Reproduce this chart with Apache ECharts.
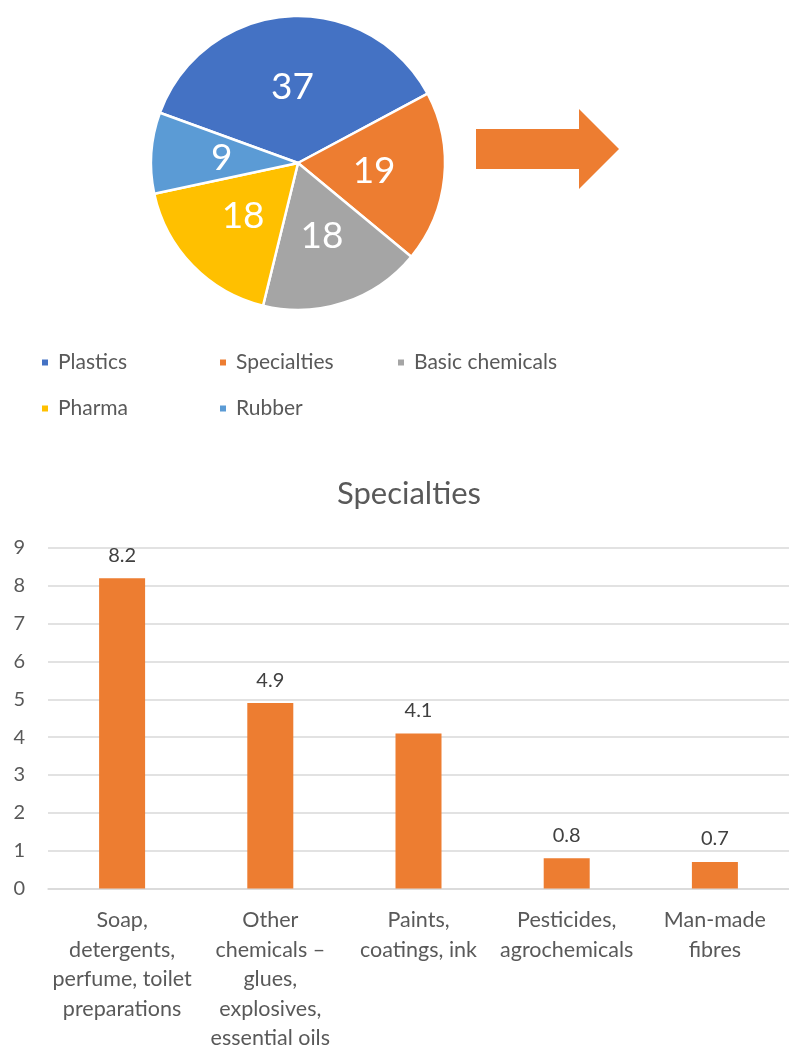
<!DOCTYPE html>
<html>
<head>
<meta charset="utf-8">
<script src="https://cdn.jsdelivr.net/npm/echarts@6/dist/echarts.min.js"></script>
<style>
html,body{margin:0;padding:0;background:#fff;}
#chart{width:789px;height:1053px;}
</style>
</head>
<body>
<div id="chart"></div>
<script>
const pieNames = ['Plastics', 'Specialties', 'Basic chemicals', 'Pharma', 'Rubber'];
const pieValues = [37, 19, 18, 18, 9];
const pieColors = ['#4472C4', '#ED7D31', '#A5A5A5', '#FFC000', '#5B9BD5'];

const barCategories = [
  'Soap,\ndetergents,\nperfume, toilet\npreparations',
  'Other\nchemicals –\nglues,\nexplosives,\nessential oils',
  'Paints,\ncoatings, ink',
  'Pesticides,\nagrochemicals',
  'Man-made\nfibres'
];
const barValues = [8.2, 4.9, 4.1, 0.8, 0.7];
const yTicks = [0, 1, 2, 3, 4, 5, 6, 7, 8, 9];

const FONT = 'Lato, "Liberation Sans", sans-serif';
const legendPos = [[40, 352], [218, 352], [396, 352], [40, 398], [218, 398]];

const chart = echarts.init(document.getElementById('chart'), null, {renderer: 'canvas'});
chart.setOption({
  backgroundColor: '#ffffff',
  animation: false,
  color: pieColors,
  title: {
    text: 'Specialties',
    left: 409, textAlign: 'center', top: 478, padding: 0,
    textStyle: {fontFamily: FONT, fontSize: 31, fontWeight: 'normal', color: '#595959'}
  },
  legend: pieNames.map((n, i) => ({
    data: [n],
    left: legendPos[i][0], top: legendPos[i][1], padding: 0,
    icon: 'rect', itemWidth: 8, itemHeight: 8,
    textStyle: {fontFamily: FONT, fontSize: 21, color: '#595959', padding: [0, 0, 0, 4]}
  })),
  graphic: [{
    type: 'polygon',
    shape: {points: [[476, 129], [579, 129], [579, 109], [619, 149], [579, 189], [579, 169], [476, 169]]},
    style: {fill: '#ED7D31'}
  }],
  grid: {left: 48, top: 548, width: 746, height: 347},
  xAxis: {
    type: 'category',
    data: barCategories,
    axisLine: {show: true, lineStyle: {color: '#D9D9D9', width: 1.5}},
    axisTick: {show: false},
    axisLabel: {fontFamily: FONT, fontSize: 21.5, color: '#595959', lineHeight: 29.5, margin: 17, interval: 0}
  },
  yAxis: {
    type: 'value',
    min: yTicks[0], max: yTicks[yTicks.length - 1], interval: 1,
    axisLine: {show: false},
    axisTick: {show: false},
    splitLine: {lineStyle: {color: '#D9D9D9', width: 1.5}},
    axisLabel: {fontFamily: FONT, fontSize: 20, color: '#595959', margin: 23}
  },
  series: [
    {
      type: 'pie',
      center: [298, 163],
      radius: [0, 147],
      startAngle: 160,
      clockwise: true,
      data: pieNames.map((n, i) => ({name: n, value: pieValues[i], itemStyle: {color: pieColors[i]}})),
      itemStyle: {borderColor: '#ffffff', borderWidth: 2.5},
      label: {show: true, position: 'inside', formatter: '{c}', fontFamily: FONT, fontSize: 37, color: '#ffffff'},
      labelLine: {show: false},
      emphasis: {disabled: true}
    },
    {
      type: 'bar',
      data: barValues,
      barWidth: 46,
      itemStyle: {color: '#ED7D31'},
      label: {show: true, position: 'top', distance: 13, fontFamily: FONT, fontSize: 20, color: '#404040'}
    }
  ]
});
</script>
</body>
</html>
